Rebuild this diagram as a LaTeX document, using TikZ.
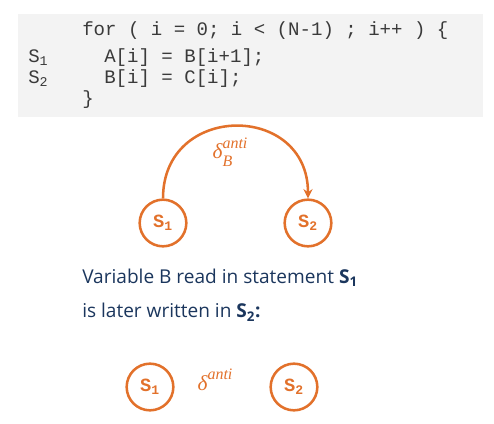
\documentclass[tikz,border=0pt]{standalone}
\usepackage{fontspec}
\setmainfont{Open Sans}
\newfontfamily\codefont{Liberation Mono}
\newfontfamily\depfont{Liberation Serif}
\usepackage{xcolor}
\usetikzlibrary{arrows.meta,positioning}
\definecolor{depor}{HTML}{E2712B}
\definecolor{codebg}{HTML}{F3F3F3}
\definecolor{codetx}{HTML}{3A3A3A}
\definecolor{navy}{HTML}{1B365D}
\newcommand{\supsub}[2]{\rlap{\raisebox{-0.35em}{\fontsize{12}{12}\selectfont#2}}\raisebox{0.5em}{\fontsize{12}{12}\selectfont#1}}

\begin{document}
\begin{tikzpicture}[
  x=0.75pt,y=-0.75pt,
  stmt/.style={draw=depor,circle,line width=1.9pt,minimum size=35pt,inner sep=0pt,
    text=depor,font=\codefont\bfseries\fontsize{14}{15}\selectfont},
  codeline/.style={anchor=base west,inner sep=0pt,text=codetx,font=\codefont\fontsize{14.3}{15.75}\selectfont},
  dep/.style={text=depor,font=\depfont\itshape\fontsize{16}{17}\selectfont},
  para/.style={anchor=base west,inner sep=0pt,text=navy,font=\fontsize{14.3}{17}\selectfont},
  arr/.style={-{Stealth[length=7pt,width=7pt]},draw=depor,line width=1.9pt}
]
\useasboundingbox (0,0) rectangle (494,424);
\fill[codebg] (18,14) rectangle (483,117);

% code
\node[codeline] (for) at (82,36) {for ( i = 0; i < (N-1) ; i++ ) \{};
\node[codeline] (la) at (104,63) {A[i] = B[i+1];};
\node[codeline] (lb) at (104,84) {B[i] = C[i];};
\node[codeline] (close) at (82,105) {\}};
\node[codeline] (n1) at (28,63) {S\textsubscript{1}};
\node[codeline] (n2) at (28,84) {S\textsubscript{2}};

% graph with arc
\node[stmt] (s1) at (163,223) {S\textsubscript{1}};
\node[stmt] (s2) at (308,223) {S\textsubscript{2}};
\draw[arr] (s1.north) to[out=90,in=90,looseness=1.7] (s2.north);
\node[dep] (d1) at (230,152) {δ\supsub{anti}{B}};

% explanation
\node[para] (t1) at (82,284) {Variable B read in statement \textbf{S\textsubscript{1}}};
\node[para] (t2) at (82,318) {is later written in \textbf{S\textsubscript{2}:}};

% graph without arc
\node[stmt] (s3) at (150,387) {S\textsubscript{1}};
\node[stmt] (s4) at (294,387) {S\textsubscript{2}};
\node[dep] (d2) at (215,380) {δ\raisebox{0.5em}{\fontsize{12}{12}\selectfont anti}};
\end{tikzpicture}
\end{document}
